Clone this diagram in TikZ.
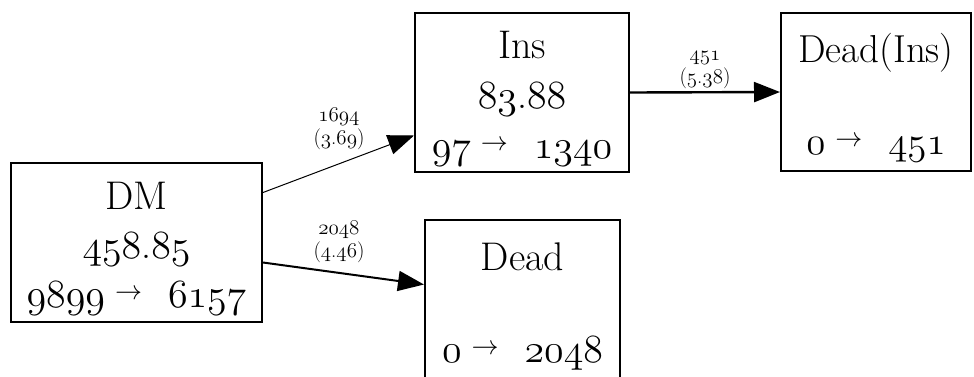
\RequirePackage{fix-cm}
\documentclass[tikz,border=0pt]{standalone}
\usetikzlibrary{arrows.meta}

% old-style figures taken from the Computer Modern math italic font
\newcommand\osf[1]{{\usefont{OML}{cmm}{m}{it}#1}}
% small raised arrow used inside the boxes
\newcommand\tarr{\raisebox{8pt}{\fontsize{27}{27}\selectfont$\rightarrow$}}
\newcommand\flow[2]{\osf{#1}\hspace{10pt}\tarr\hspace{26pt}\osf{#2}}

\tikzset{
  stbox/.style={draw, line width=2pt, rectangle, inner sep=0pt},
  sttext/.style={align=center, inner sep=0pt},
  lbl/.style={inner sep=0pt, align=center, font=\fontsize{21}{23}\selectfont},
  tip/.style={-{Triangle[length=26pt,width=20pt]}},
}

\begin{document}
\begin{tikzpicture}[x=1pt,y=-1pt]
  \useasboundingbox (0,0) rectangle (974,376);

  % states: frame plus centred text
  \node[stbox, minimum width=251pt, minimum height=159pt] (dm) at (136.5,242.5) {};
  \node[sttext, font=\fontsize{40}{49}\selectfont] (dmt)
    at (136.5,249) {DM\\\osf{458}.\osf{85}\\\flow{9899}{6157}};
  \node[stbox, minimum width=214pt, minimum height=159pt] (ins) at (522,92.5) {};
  \node[sttext, font=\fontsize{40}{50}\selectfont] (inst)
    at (522,99) {Ins\\\osf{83}.\osf{88}\\\flow{97}{1340}};
  \node[stbox, minimum width=190pt, minimum height=158pt] (deadins) at (876,92) {};
  \node[sttext, font=\fontsize{39}{46}\selectfont] (deadinst)
    at (876,98) {Dead(Ins)\\\mbox{}\\\flow{0}{451}};
  \node[stbox, minimum width=195pt, minimum height=159pt] (dead) at (522.5,299.5) {};
  \node[sttext, font=\fontsize{40}{46}\selectfont] (deadt)
    at (522.5,306) {Dead\\\mbox{}\\\flow{0}{2048}};

  % transitions
  \draw[tip, line width=1pt] ([yshift=50pt]dm.east) -- ([yshift=-43pt]ins.west);
  \draw[tip, line width=2pt] ([yshift=-20pt]dm.east) -- ([yshift=15pt]dead.west);
  \draw[tip, line width=2.4pt] (ins.east) -- (deadins.west);

  % transition labels
  \node[lbl] (l1) at (339,129) {\osf{1694}\\(\osf{3}.\osf{69})};
  \node[lbl] (l2) at (339,241.5) {\osf{2048}\\(\osf{4}.\osf{46})};
  \node[lbl] (l3) at (705,70) {\osf{451}\\(\osf{5}.\osf{38})};
\end{tikzpicture}
\end{document}
